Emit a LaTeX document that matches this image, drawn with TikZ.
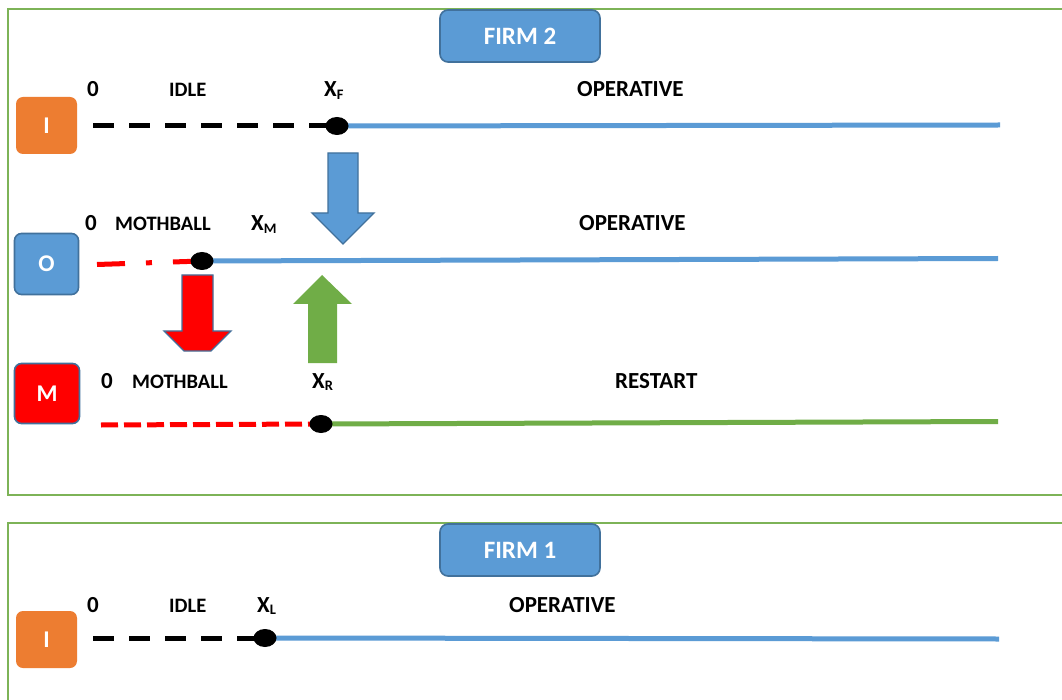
\documentclass[tikz,border=0pt]{standalone}
\usepackage{fontspec}
\setmainfont{Carlito}
\usetikzlibrary{shapes.geometric}
\definecolor{bl}{HTML}{5B9BD5}
\definecolor{bld}{HTML}{41719C}
\definecolor{org}{HTML}{ED7D31}
\definecolor{grn}{HTML}{70AD47}
\definecolor{frm}{HTML}{7DB357}
\pgfdeclarelayer{bg}
\pgfsetlayers{bg,main}
\newcommand{\sbs}[1]{{\fontsize{14.5}{14.5}\selectfont\raisebox{-2.5pt}{#1}}}
\begin{document}
\begin{tikzpicture}[x=1pt,y=-1pt,
  lab/.style={anchor=base west, inner sep=0pt, font=\fontsize{23}{25}\selectfont\bfseries},
  slab/.style={anchor=base west, inner sep=0pt, font=\fontsize{20.5}{22}\selectfont\bfseries},
  statebox/.style={rounded corners=7pt, text=white, font=\fontsize{24}{26}\selectfont\bfseries, inner sep=0pt},
  firmbox/.style={rounded corners=8pt, fill=bl, draw=bld, line width=1.6pt, text=white, font=\fontsize{25}{27}\selectfont\bfseries, minimum width=160pt, minimum height=52pt, inner sep=0pt},
  dotnode/.style={ellipse, fill=black, minimum width=23pt, minimum height=18pt, inner sep=0pt},
  frame/.style={draw=frm, line width=2pt},
  idleline/.style={black, line width=5pt, dash pattern=on 21pt off 15pt},
  opline/.style={bl, line width=5pt},
  fatarrow/.style={line width=1.4pt, line join=miter}
]
\useasboundingbox (0,0) rectangle (1062,700);
\clip (0,0) rectangle (1062,700);

% firm boxes
\node[firmbox] (firm2) at (520,36) {FIRM 2};
\node[firmbox] (firm1) at (520,550) {FIRM 1};

% state boxes
\node[statebox, fill=org, minimum width=61pt, minimum height=57pt] (i2) at (46.5,125.5) {I};
\node[statebox, fill=bl, draw=bld, line width=1.6pt, minimum width=64pt, minimum height=61pt] (o2) at (46.5,264) {O};
\node[statebox, fill=red, draw=bld, line width=1.6pt, minimum width=65pt, minimum height=60pt] (m2) at (47,393.5) {M};
\node[statebox, fill=org, minimum width=61pt, minimum height=57pt] (i1) at (46.5,639.5) {I};

% dots
\node[dotnode] (xf) at (337,126) {};
\node[dotnode] (xm) at (202,261) {};
\node[dotnode] (xr) at (321,424) {};
\node[dotnode] (xl) at (265,638) {};

% line ends
\coordinate (s1) at (93,126);
\coordinate (e1) at (1000,125);
\coordinate (s2) at (97,264.5);
\coordinate (e2) at (998,258.5);
\coordinate (s3) at (101,425);
\coordinate (e3) at (998,421.5);
\coordinate (s4) at (93,638);
\coordinate (e4) at (999,639);

\begin{pgfonlayer}{bg}
\fill[white] (0,0) rectangle (1062,700);
% frames
\draw[frame] (8,9) rectangle (1080,495);
\draw[frame] (8,523) rectangle (1080,720);
% lines
\draw[idleline] (s1) -- (xf.center);
\draw[opline] (xf.center) -- (e1);
\draw[red, line width=5pt, dash pattern=on 28pt off 21pt on 6pt off 21pt] (s2) -- (xm.center);
\draw[opline] (xm.center) -- (e2);
\draw[red, line width=5pt, dash pattern=on 17pt off 6pt] (s3) -- (xr.center);
\draw[grn, line width=5pt] (xr.center) -- (e3);
\draw[idleline] (s4) -- (xl.center);
\draw[opline] (xl.center) -- (e4);
\end{pgfonlayer}

% arrows
\draw[fatarrow, fill=bl, draw=bld] (328,153) -- (358,153) -- (358,213) -- (374,213) -- (343,244) -- (312,213) -- (328,213) -- cycle;
\draw[fatarrow, fill=red, draw=bld] (182,275) -- (213,275) -- (213,331) -- (231,331) -- (211,351) -- (184,351) -- (164,331) -- (182,331) -- cycle;
\fill[grn] (322,275) -- (352,304) -- (337,304) -- (337,363) -- (308,363) -- (308,304) -- (293,304) -- cycle;

% labels firm 2, row I
\node[lab] (z1) at (87,97) {0};
\node[slab] (idle1) at (169,97) {IDLE};
\node[lab] (lxf) at (324,97) {X\sbs{F}};
\node[lab] (op1) at (577,97) {OPERATIVE};
% row O
\node[lab] (z2) at (85,231) {0};
\node[slab] (mb1) at (115,231) {MOTHBALL};
\node[lab] (lxm) at (251,231) {X\sbs{M}};
\node[lab] (op2) at (579,231) {OPERATIVE};
% row M
\node[lab] (z3) at (101,388) {0};
\node[slab] (mb2) at (132,388) {MOTHBALL};
\node[lab] (lxr) at (312,388) {X\sbs{R}};
\node[lab] (rs) at (615,388) {RESTART};
% firm 1
\node[lab] (z4) at (87,612) {0};
\node[slab] (idle2) at (169,612) {IDLE};
\node[lab] (lxl) at (257,612) {X\sbs{L}};
\node[lab] (op3) at (509,612) {OPERATIVE};
\end{tikzpicture}
\end{document}
